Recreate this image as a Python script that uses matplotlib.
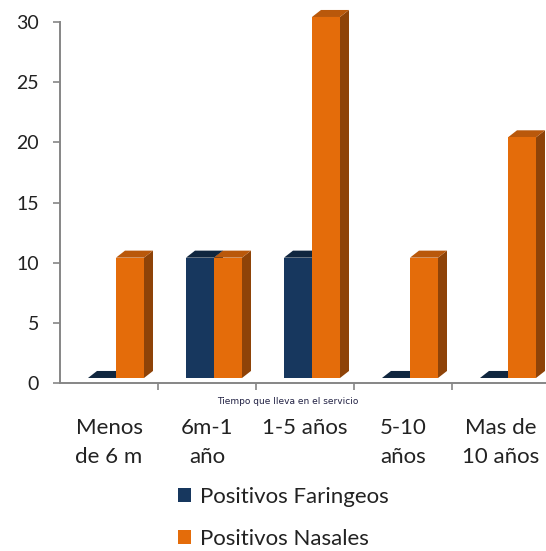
import matplotlib.pyplot as plt
from matplotlib.patches import Polygon, Rectangle

categories = ["Menos\nde 6 m", "6m-1\naño", "1-5 años", "5-10\naños", "Mas de\n10 años"]
faringeos = [0, 10, 10, 0, 0]
nasales = [10, 10, 30, 10, 20]
series_names = ["Positivos Faringeos", "Positivos Nasales"]

# front / top / side shades for each series
navy = ("#17375E", "#10263F", "#0E2238")
orange = ("#E46C0A", "#B9580B", "#8E4308")

plt.rcParams['font.family'] = ['Lato', 'DejaVu Sans']

fig = plt.figure(figsize=(5.46, 5.51), dpi=100)
ax = fig.add_axes([60 / 546, 168 / 551, 490 / 546, 361 / 551])
ax.set_xlim(0, 5)
ax.set_ylim(0, 30)

# pseudo-3d bar geometry in data units
bar_w = 28 / 98
dx = 9 / 98
dy = 7 / 12
base = 5 / 12
shift = 7 / 98


def bar3d(x0, h, cols):
    front, top, side = cols
    y1 = base + h
    ax.add_patch(Polygon([(x0 + bar_w, base), (x0 + bar_w + dx, base + dy),
                          (x0 + bar_w + dx, y1 + dy), (x0 + bar_w, y1)],
                         closed=True, fc=side, ec='none', clip_on=False))
    ax.add_patch(Polygon([(x0, y1), (x0 + dx, y1 + dy),
                          (x0 + bar_w + dx, y1 + dy), (x0 + bar_w, y1)],
                         closed=True, fc=top, ec='none', clip_on=False))
    if h > 0:
        ax.add_patch(Rectangle((x0, base), bar_w, h, fc=front, ec='none',
                               clip_on=False))


for i in range(len(categories)):
    c = i + 0.5 + shift
    bar3d(c - bar_w, faringeos[i], navy)
    bar3d(c, nasales[i], orange)

for s in ['top', 'right']:
    ax.spines[s].set_visible(False)
for s in ['left', 'bottom']:
    ax.spines[s].set_color('#868686')
    ax.spines[s].set_linewidth(1.4)

ax.set_yticks(range(0, 31, 5))
ax.tick_params(axis='y', direction='out', length=5, width=1.2, color='#868686',
               labelsize=14, labelcolor='#222222', pad=10)
ax.set_xticks([1, 2, 3, 4])
ax.set_xticklabels([])
ax.tick_params(axis='x', direction='out', length=5, width=1.2, color='#868686')
ax.set_xticks([i + 0.5 for i in range(5)], minor=True)
ax.set_xticklabels(categories, minor=True, fontsize=16, color='#222222',
                   va='top', linespacing=1.55)
ax.tick_params(axis='x', which='minor', length=0, pad=25)

ax.text(2.32, -1.5, "Tiempo que lleva en el servicio", fontsize=6.5,
        family='DejaVu Sans', color='#222244', ha='center', va='center')

handles = [Rectangle((0, 0), 1, 1, fc=navy[0]), Rectangle((0, 0), 1, 1, fc=orange[0])]
fig.legend(handles, series_names, loc='upper left',
           bbox_to_anchor=(158 / 546, 1 - 467 / 551), frameon=False,
           fontsize=16, handlelength=0.6, handleheight=0.6, handletextpad=0.4,
           labelspacing=1.0, labelcolor='#222222')

fig.savefig('out.png', dpi=100)
